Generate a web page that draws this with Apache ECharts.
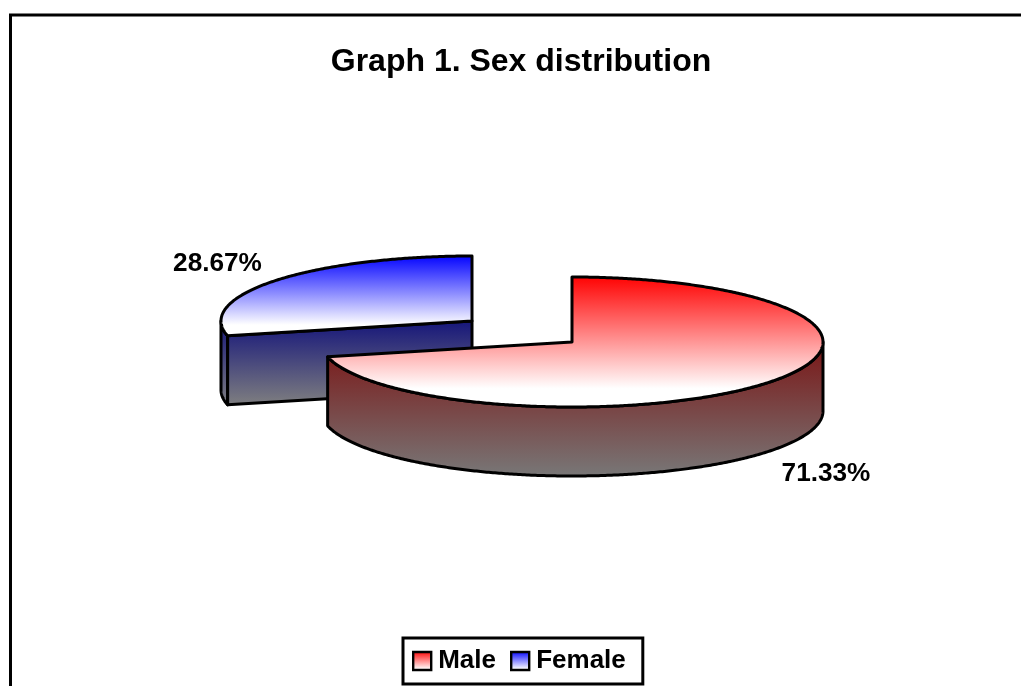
<!DOCTYPE html>
<html>
<head>
<meta charset="utf-8">
<title>Graph 1. Sex distribution</title>
<style>
  html, body { margin: 0; padding: 0; background: #fff; }
  #chart { width: 1021px; height: 686px; }
</style>
<script src="https://cdn.jsdelivr.net/npm/echarts@6/dist/echarts.min.js"></script>
</head>
<body>
<div id="chart"></div>
<script>
// Share of patients by sex, in percent
const categories = ['Male', 'Female'];
const shares = [71.33, 28.67];
const chartTitle = 'Graph 1. Sex distribution';

// Appearance of the tilted pie
const RX = 251, RY = 65, DEPTH = 69;
const FONT = '"Liberation Sans", Arial, sans-serif';
const sliceStyle = {
  Male: { cx: 572, cy: 342, labelX: 826, labelY: 474, base: '#ff0000', wallTop: '#7a1414', wallBottom: '#787878' },
  Female: { cx: 472, cy: 321, labelX: 217.5, labelY: 264, base: '#0000ff', wallTop: '#14147a', wallBottom: '#808080' }
};

const vertical = (a, b, end) => new echarts.graphic.LinearGradient(0, 0, 0, 1, [
  { offset: 0, color: a }, { offset: end === undefined ? 1 : end, color: b }, { offset: 1, color: b }
]);

// Point on the tilted rim; the angle runs clockwise from twelve o'clock
const rim = (cx, cy, deg, drop) => {
  const t = deg * Math.PI / 180;
  return [cx + RX * Math.sin(t), cy - RY * Math.cos(t) + (drop || 0)];
};

const arcPoints = (cx, cy, from, to, drop) => {
  const pts = [];
  const n = Math.max(2, Math.ceil(Math.abs(to - from) * 2));
  for (let i = 0; i <= n; i++) pts.push(rim(cx, cy, from + (to - from) * i / n, drop));
  return pts;
};

function sliceRenderer(index) {
  const name = categories[index];
  const before = shares.slice(0, index).reduce((s, v) => s + v, 0);
  const st = sliceStyle[name];
  return function (params, api) {
    const value = api.value(0);
    const from = before * 3.6;
    const to = (before + value) * 3.6;
    const { cx, cy } = st;
    const line = { stroke: '#000', lineWidth: 3, lineJoin: 'round' };
    const children = [];

    // Outer wall: only the part of the rim that faces the viewer
    const wallFrom = Math.max(from, 90), wallTo = Math.min(to, 270);
    if (wallTo > wallFrom) {
      children.push({
        type: 'polygon',
        shape: { points: arcPoints(cx, cy, wallFrom, wallTo, 0).concat(arcPoints(cx, cy, wallTo, wallFrom, DEPTH)) },
        style: Object.assign({ fill: vertical(st.wallTop, st.wallBottom) }, line)
      });
    }

    // Cut face, visible when the slice ends on the viewer's side of the pie
    if (to >= 270) {
      const tip = rim(cx, cy, from, 0);
      children.push({
        type: 'polygon',
        shape: { points: [tip, [cx, cy], [cx, cy + DEPTH], [tip[0], tip[1] + DEPTH]] },
        style: Object.assign({ fill: vertical(st.wallTop, st.wallBottom) }, line)
      });
    }

    // Top face
    children.push({
      type: 'polygon',
      shape: { points: [[cx, cy]].concat(arcPoints(cx, cy, from, to, 0)) },
      style: Object.assign({ fill: vertical(st.base, '#ffffff', 0.85) }, line)
    });

    // Value label
    children.push({
      type: 'text',
      style: {
        x: st.labelX, y: st.labelY,
        text: value.toFixed(2) + '%',
        fill: '#000',
        font: 'bold 26.2px ' + FONT,
        textAlign: 'center', textVerticalAlign: 'middle'
      }
    });
    return { type: 'group', children };
  };
}

const chart = echarts.init(document.getElementById('chart'), null, { renderer: 'canvas' });

// The female slice sits behind the male one, so it is drawn first
const drawOrder = [1, 0];

chart.setOption({
  animation: false,
  backgroundColor: '#ffffff',
  title: {
    text: chartTitle,
    left: 516, top: 41, textAlign: 'center',
    textStyle: { fontFamily: FONT, fontWeight: 'bold', fontSize: 32, color: '#000' }
  },
  legend: {
    data: categories.map(name => ({
      name,
      icon: 'rect',
      itemStyle: {
        color: vertical(sliceStyle[name].base, '#ffffff', 0.9),
        borderColor: '#000', borderWidth: 2.4
      }
    })),
    left: 403, top: 638,
    orient: 'horizontal',
    itemWidth: 18, itemHeight: 18, itemGap: 14,
    padding: [10, 17, 10, 9],
    backgroundColor: '#ffffff',
    borderColor: '#000', borderWidth: 3,
    selectedMode: false,
    textStyle: { fontFamily: FONT, fontWeight: 'bold', fontSize: 26, color: '#000', padding: [0, 0, 0, 2] }
  },
  graphic: [{
    type: 'rect',
    silent: true,
    z: -1,
    shape: { x: 10.5, y: 15, width: 1100, height: 800 },
    style: { fill: null, stroke: '#000', lineWidth: 3 }
  }],
  series: drawOrder.map(i => ({
    type: 'custom',
    name: categories[i],
    coordinateSystem: 'none',
    z: i === 0 ? 3 : 2,
    silent: true,
    data: [[shares[i]]],
    renderItem: sliceRenderer(i)
  }))
});
</script>
</body>
</html>
